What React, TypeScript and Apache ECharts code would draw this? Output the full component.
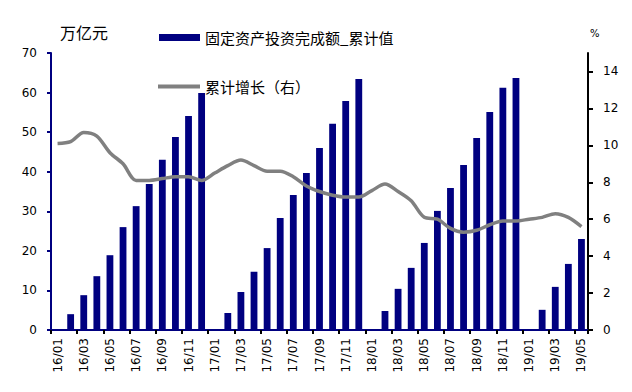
import React, { useEffect, useRef } from "react";
import * as echarts from "echarts";

const months: string[] = [
  "16/01","16/02","16/03","16/04","16/05","16/06","16/07","16/08","16/09","16/10","16/11","16/12",
  "17/01","17/02","17/03","17/04","17/05","17/06","17/07","17/08","17/09","17/10","17/11","17/12",
  "18/01","18/02","18/03","18/04","18/05","18/06","18/07","18/08","18/09","18/10","18/11","18/12",
  "19/01","19/02","19/03","19/04","19/05",
];

// 固定资产投资完成额_累计值 (万亿元); January not published
const investment: (number | null)[] = [
  null, 4.0, 8.8, 13.6, 18.9, 26.0, 31.3, 36.9, 43.0, 48.8, 54.1, 59.9,
  null, 4.3, 9.6, 14.7, 20.7, 28.3, 34.1, 39.7, 46.0, 52.1, 57.9, 63.4,
  null, 4.8, 10.4, 15.7, 22.0, 30.1, 35.9, 41.7, 48.5, 55.1, 61.2, 63.7,
  null, 5.1, 10.9, 16.7, 23.0,
];

// 累计增长 (%)
const growth: number[] = [
  10.1, 10.2, 10.7, 10.5, 9.6, 9.0, 8.1, 8.1, 8.2, 8.3, 8.3, 8.1,
  8.5, 8.9, 9.2, 8.9, 8.6, 8.6, 8.3, 7.8, 7.5, 7.3, 7.2, 7.2,
  7.55, 7.9, 7.5, 7.0, 6.1, 6.0, 5.5, 5.3, 5.4, 5.7, 5.9, 5.9,
  6.0, 6.1, 6.3, 6.1, 5.6,
];

const leftTicks: number[] = [0, 10, 20, 30, 40, 50, 60, 70];
const rightTicks: number[] = [0, 2, 4, 6, 8, 10, 12, 14];

const barName = "固定资产投资完成额_累计值";
const lineName = "累计增长（右）";

export default function App() {
  const ref = useRef<HTMLDivElement>(null);
  useEffect(() => {
    if (!ref.current) return;
    const chart = echarts.init(ref.current, null, { renderer: "svg" });
    const numFont = "'DejaVu Sans', 'Liberation Sans', Arial, sans-serif";
    const cjkFont = "'Noto Sans CJK SC', sans-serif";
    chart.setOption({
      animation: false,
      backgroundColor: "#ffffff",
      grid: { left: 51, right: 44, top: 53, bottom: 62, containLabel: false },
      legend: [
        {
          data: [{ name: barName, icon: "rect" }],
          left: 159,
          top: 30,
          padding: 0,
          itemWidth: 41,
          itemHeight: 7,
          itemGap: 5,
          textStyle: { fontFamily: cjkFont, fontSize: 15, color: "#000" },
        },
        {
          data: [{ name: lineName, icon: "rect" }],
          left: 158,
          top: 79,
          padding: 0,
          itemWidth: 42,
          itemHeight: 4,
          itemGap: 5,
          textStyle: { fontFamily: cjkFont, fontSize: 15, color: "#000" },
        },
      ],
      graphic: [
        {
          type: "text",
          left: 60,
          top: 24,
          style: { text: "万亿元", fontFamily: cjkFont, fontSize: 16, fill: "#000" },
        },
        {
          type: "text",
          left: 590,
          top: 28,
          style: { text: "%", fontFamily: numFont, fontSize: 10, fill: "#000" },
        },
      ],
      xAxis: {
        type: "category",
        data: months,
        boundaryGap: true,
        axisLine: { show: true, lineStyle: { color: "#000080", width: 2 } },
        axisTick: { show: true, interval: 1, length: 4, lineStyle: { color: "#000", width: 2 } },
        axisLabel: {
          interval: 1,
          rotate: 90,
          margin: 8,
          fontFamily: numFont,
          fontSize: 12,
          color: "#000",
        },
        splitLine: { show: false },
      },
      yAxis: [
        {
          type: "value",
          min: 0,
          max: 70,
          interval: 10,
          position: "left",
          axisLine: { show: true, lineStyle: { color: "#000080", width: 2 } },
          axisTick: { show: true, length: 4, lineStyle: { color: "#000080", width: 2 } },
          axisLabel: {
            margin: 14,
            fontFamily: numFont,
            fontSize: 12,
            color: "#000",
            customValues: leftTicks,
          },
          splitLine: { show: false },
        },
        {
          type: "value",
          min: 0,
          max: 15,
          interval: 2,
          position: "right",
          axisLine: { show: true, lineStyle: { color: "#000", width: 2 } },
          axisTick: { show: true, length: 5, customValues: rightTicks, lineStyle: { color: "#000", width: 2 } },
          axisLabel: {
            margin: 15,
            fontFamily: numFont,
            fontSize: 12,
            color: "#000",
            customValues: rightTicks,
          },
          splitLine: { show: false },
        },
      ],
      series: [
        {
          name: barName,
          type: "bar",
          data: investment,
          yAxisIndex: 0,
          barWidth: "52%",
          itemStyle: { color: "#000080" },
        },
        {
          name: lineName,
          type: "line",
          data: growth,
          yAxisIndex: 1,
          smooth: 0.3,
          symbol: "none",
          lineStyle: { color: "#808080", width: 3.5 },
          itemStyle: { color: "#808080" },
        },
      ],
    });
    return () => chart.dispose();
  }, []);
  return (
    <div
      ref={ref}
      style={{ position: "fixed", left: 0, top: 0, width: 632, height: 392, background: "#fff" }}
    />
  );
}
